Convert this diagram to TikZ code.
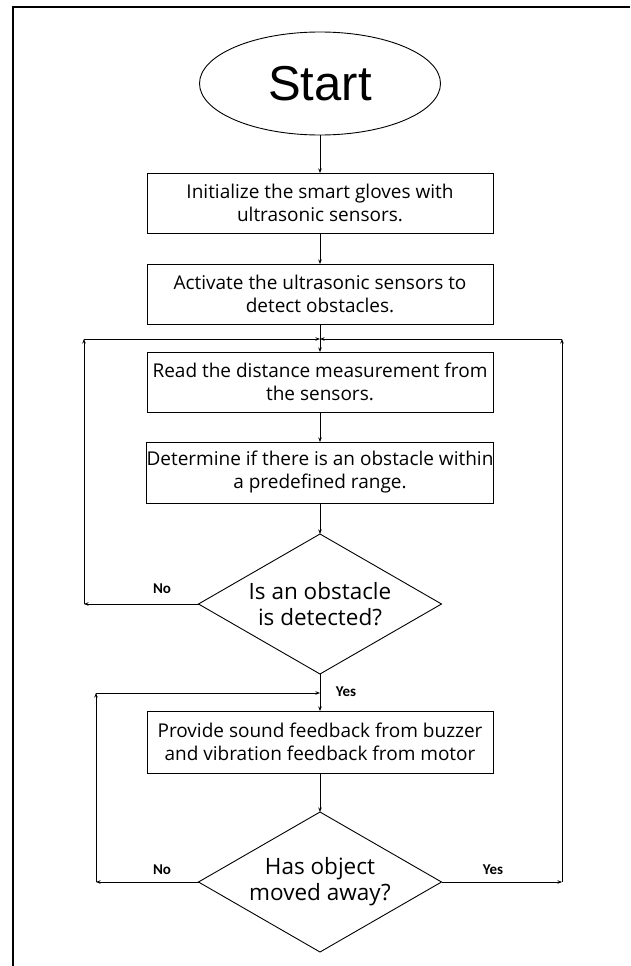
\documentclass[tikz,border=0pt]{standalone}
\usepackage{fontspec}
\setmainfont{Open Sans}
\newfontfamily\startfont{Liberation Sans}
\newfontfamily\lblfont{Carlito}
\usetikzlibrary{shapes.geometric,arrows.meta}
\begin{document}
\begin{tikzpicture}[x=1pt,y=-1pt,
 line width=0.9pt,
 >={Stealth[length=4.5pt,width=3.5pt]},
 procbox/.style={draw, rectangle, minimum width=346pt, minimum height=60pt, inner sep=0pt, outer sep=0pt, align=center, font=\fontsize{19}{23}\selectfont},
 decbox/.style={draw, diamond, aspect=1.74, minimum width=243pt, minimum height=140pt, inner sep=0pt, outer sep=0pt, align=center, font=\fontsize{22.5}{26}\selectfont},
 lbl/.style={font=\lblfont\bfseries\fontsize{15}{16}\selectfont, inner sep=0pt},
]
\useasboundingbox (0,0) rectangle (630,966);
\draw[line width=1.8pt] (13,966) -- (13,7) -- (630,7);

\node[ellipse, draw, minimum width=241pt, minimum height=103pt, inner sep=0pt, outer sep=0pt, font=\startfont\fontsize{49}{49}\selectfont] (start) at (320,83.5) {Start};
\node[procbox] (b1) at (320,203) {Initialize the smart gloves with\\ultrasonic sensors.};
\node[procbox] (b2) at (320,294) {Activate the ultrasonic sensors to\\detect obstacles.};
\node[procbox] (b3) at (320,382) {Read the distance measurement from\\the sensors.};
\node[procbox, minimum height=61pt] (b4) at (320,472.5) {Determine if there is an obstacle within\\a predefined range.};
\node[decbox] (d1) at (320,604) {Is an obstacle\\is detected?};
\node[procbox, minimum height=62pt] (b5) at (320,742) {Provide sound feedback from buzzer\\and vibration feedback from motor};
\node[decbox] (d2) at (320,882) {Has object\\moved away?};

\coordinate (j1) at (320,339);
\coordinate (l1) at (84,604);
\coordinate (l1t) at (84,339);
\coordinate (r1) at (562,882);
\coordinate (r1t) at (562,339);
\coordinate (j2) at (320,693);
\coordinate (l2) at (96,882);
\coordinate (l2t) at (96,693);

\draw[->] (start.south) -- (b1.north);
\draw[->] (b1.south) -- (b2.north);
\draw[->] (b2.south) -- (b3.north);
\draw[->] (b3.south) -- (b4.north);
\draw[->] (b4.south) -- (d1.north);
\draw[->] (d1.west) -- (l1);
\draw[->] (l1) -- (l1t);
\draw[->] (l1t) -- (j1);
\draw[->] (d1.south) -- (b5.north);
\draw[->] (b5.south) -- (d2.north);
\draw[->] (d2.west) -- (l2);
\draw[->] (l2) -- (l2t);
\draw[->] (l2t) -- (j2);
\draw[->] (d2.east) -- (r1);
\draw[->] (r1) -- (r1t);
\draw[->] (r1t) -- (j1);

\node[lbl] (no1) at (162,589) {No};
\node[lbl] (yes1) at (346,692) {Yes};
\node[lbl] (no2) at (162,870) {No};
\node[lbl] (yes2) at (493,870) {Yes};
\end{tikzpicture}
\end{document}
